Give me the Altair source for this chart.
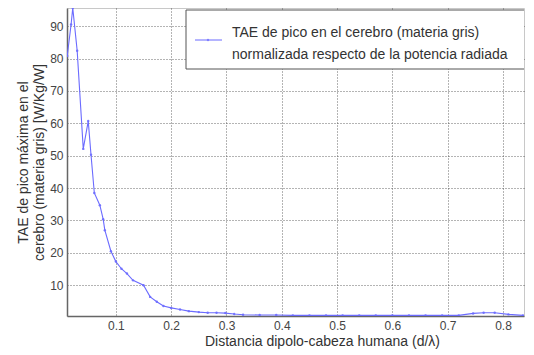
import altair as alt
import pandas as pd

# Data
dist = [0.012, 0.019, 0.022, 0.030, 0.041, 0.050, 0.055, 0.061, 0.071, 0.077,
        0.080, 0.091, 0.100, 0.110, 0.120, 0.131, 0.150, 0.162, 0.174, 0.186,
        0.200, 0.216, 0.232, 0.250, 0.266, 0.282, 0.298, 0.314, 0.330, 0.360,
        0.390, 0.420, 0.450, 0.480, 0.510, 0.540, 0.570, 0.600, 0.630, 0.660,
        0.690, 0.720, 0.746, 0.765, 0.785, 0.810, 0.836, 0.860]
tae = [80.8, 90.5, 95.6, 82.4, 52.1, 60.7, 50.3, 38.5, 34.7, 30.4,
       27.0, 20.5, 17.3, 15.1, 13.6, 11.5, 10.0, 6.4, 4.9, 3.6,
       3.0, 2.5, 2.0, 1.7, 1.5, 1.5, 1.4, 1.1, 0.9, 0.8,
       0.8, 0.7, 0.7, 0.7, 0.7, 0.7, 0.7, 0.7, 0.7, 0.7,
       0.7, 0.7, 1.3, 1.5, 1.5, 1.0, 0.7, 0.7]
x_ticks = [0.1, 0.2, 0.3, 0.4, 0.5, 0.6, 0.7, 0.8]
y_ticks = [10, 20, 30, 40, 50, 60, 70, 80, 90]
legend_lines = ["TAE de pico en el cerebro (materia gris)",
                "normalizada respecto de la potencia radiada"]
y_title = ["TAE de pico máxima en el", "cerebro (materia gris) [W/Kg/W]"]
x_title = "Distancia dipolo-cabeza humana (d/λ)"

df = pd.DataFrame({"d": dist, "tae": tae})

FONT = "Liberation Sans"
BLUE = "#6b6bff"
W, H = 457, 308

xscale = alt.Scale(domain=[0.0116, 0.838], nice=False, zero=False)
yscale = alt.Scale(domain=[0.5, 95.6], nice=False, zero=False)
xenc = alt.X("d:Q", scale=xscale,
             axis=alt.Axis(values=x_ticks, title=x_title, format=".1f",
                           titleX=255, titleAnchor="start", titleAlign="center",
                           titlePadding=3))
yenc = alt.Y("tae:Q", scale=yscale,
             axis=alt.Axis(values=y_ticks, title=y_title, titlePadding=3))

base = alt.Chart(df)
line = base.mark_line(color=BLUE, strokeWidth=1.1, clip=True).encode(x=xenc, y=yenc)
pts = base.mark_point(color=BLUE, filled=True, size=6, opacity=0.9, clip=True).encode(
    x=xenc, y=yenc)

one = alt.Data(values=[{"k": 1}])
box = alt.Chart(one).mark_rect(fill="white", stroke="#555", strokeWidth=1, clip=True).encode(
    x=alt.value(119), x2=alt.value(W + 5), y=alt.value(2), y2=alt.value(61))
leg_rule = alt.Chart(one).mark_rule(color=BLUE, strokeWidth=1).encode(
    x=alt.value(128), x2=alt.value(155), y=alt.value(32))
leg_pt = alt.Chart(one).mark_point(color=BLUE, filled=True, size=6).encode(
    x=alt.value(141), y=alt.value(32))
leg_txt = alt.Chart(one).mark_text(align="left", baseline="middle", font=FONT,
                                   fontSize=14, color="#333", lineHeight=22,
                                   text=legend_lines).encode(
    x=alt.value(165), y=alt.value(25))

chart = alt.layer(line, pts, box, leg_rule, leg_pt, leg_txt).properties(
    width=W, height=H,
    autosize=alt.AutoSizeParams(type="none"),
    padding={"left": 59, "top": 0, "right": 2, "bottom": 38},
).configure_view(stroke="#c8c8c8", strokeWidth=1
).configure_axis(
    labelFont=FONT, titleFont=FONT, labelFontSize=12, titleFontSize=14,
    titleFontWeight="normal", labelColor="#444", titleColor="#333",
    domainColor="#666", domainWidth=1.5, ticks=False, labelPadding=4,
    grid=True, gridColor="#444", gridDash=[1, 2], gridOpacity=0.8, gridWidth=1,
).configure_axisY(titleFontSize=14, titleLineHeight=16)

chart.save("out.html", embed_options={"renderer": "svg", "actions": False})
